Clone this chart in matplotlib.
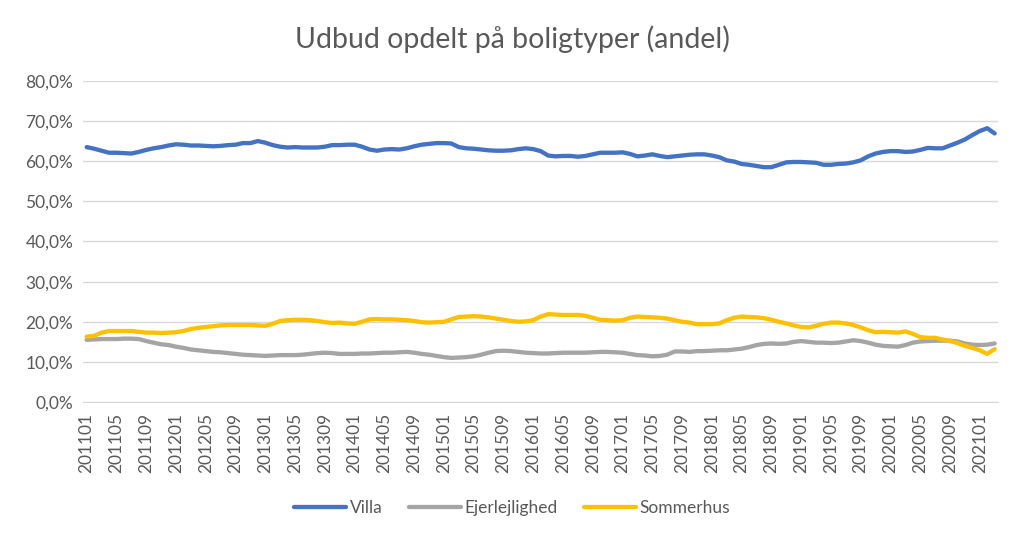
import numpy as np
import matplotlib
matplotlib.use("Agg")
import matplotlib.pyplot as plt
from matplotlib.ticker import FuncFormatter

plt.rcParams['font.family'] = ['Lato', 'DejaVu Sans']

## data -----
# monthly periods 201101 .. 202103
months = [f"{y}{m:02d}" for y in range(2011, 2022) for m in range(1, 13)][:123]

villa = [63.5, 63.1, 62.6, 62.1, 62.1, 62.0, 61.9, 62.3, 62.8, 63.2,
         63.5, 63.9, 64.2, 64.1, 63.9, 63.9, 63.8, 63.7, 63.8, 64.0,
         64.1, 64.5, 64.5, 65.0, 64.6, 64.0, 63.6, 63.4, 63.5, 63.4,
         63.4, 63.4, 63.6, 64.0, 64.0, 64.1, 64.1, 63.6, 62.9, 62.6,
         62.9, 63.0, 62.9, 63.2, 63.7, 64.1, 64.3, 64.5, 64.5, 64.4,
         63.5, 63.2, 63.1, 62.9, 62.7, 62.6, 62.6, 62.7, 63.0, 63.2,
         63.0, 62.5, 61.4, 61.2, 61.3, 61.3, 61.1, 61.3, 61.7, 62.1,
         62.1, 62.1, 62.2, 61.8, 61.2, 61.4, 61.7, 61.3, 61.0, 61.2,
         61.4, 61.6, 61.7, 61.7, 61.4, 61.0, 60.2, 59.9, 59.3, 59.1,
         58.8, 58.5, 58.5, 59.1, 59.7, 59.8, 59.8, 59.7, 59.6, 59.1,
         59.1, 59.3, 59.4, 59.7, 60.2, 61.2, 61.9, 62.3, 62.5, 62.5,
         62.3, 62.4, 62.8, 63.3, 63.2, 63.2, 63.9, 64.6, 65.4, 66.5,
         67.5, 68.2, 66.9]

ejerlejlighed = [15.5, 15.6, 15.7, 15.7, 15.7, 15.8, 15.8, 15.7, 15.2, 14.8,
                 14.4, 14.2, 13.8, 13.5, 13.1, 12.9, 12.7, 12.5, 12.4, 12.2,
                 12.0, 11.8, 11.7, 11.6, 11.5, 11.6, 11.7, 11.7, 11.7, 11.8,
                 12.0, 12.2, 12.3, 12.2, 12.0, 12.0, 12.0, 12.1, 12.1, 12.2,
                 12.3, 12.3, 12.4, 12.5, 12.3, 12.0, 11.8, 11.5, 11.2, 11.0,
                 11.1, 11.2, 11.4, 11.8, 12.3, 12.7, 12.8, 12.7, 12.5, 12.3,
                 12.2, 12.1, 12.1, 12.2, 12.3, 12.3, 12.3, 12.3, 12.4, 12.5,
                 12.5, 12.4, 12.3, 12.0, 11.7, 11.6, 11.4, 11.5, 11.8, 12.6,
                 12.6, 12.5, 12.7, 12.7, 12.8, 12.9, 12.9, 13.1, 13.3, 13.7,
                 14.2, 14.5, 14.6, 14.5, 14.6, 15.0, 15.2, 15.0, 14.8, 14.8,
                 14.7, 14.8, 15.1, 15.4, 15.2, 14.8, 14.3, 14.0, 13.9, 13.8,
                 14.2, 14.8, 15.1, 15.2, 15.3, 15.3, 15.3, 15.1, 14.6, 14.3,
                 14.2, 14.3, 14.6]

sommerhus = [16.3, 16.5, 17.3, 17.7, 17.7, 17.7, 17.7, 17.5, 17.3, 17.3,
             17.2, 17.3, 17.4, 17.7, 18.2, 18.5, 18.7, 18.9, 19.1, 19.2,
             19.2, 19.2, 19.2, 19.1, 19.0, 19.5, 20.2, 20.4, 20.5, 20.5,
             20.4, 20.2, 19.9, 19.7, 19.8, 19.6, 19.5, 20.0, 20.6, 20.7,
             20.6, 20.6, 20.5, 20.4, 20.2, 19.9, 19.8, 19.9, 20.0, 20.6,
             21.2, 21.3, 21.4, 21.3, 21.1, 20.8, 20.5, 20.2, 20.0, 20.1,
             20.4, 21.3, 21.9, 21.8, 21.7, 21.7, 21.7, 21.5, 21.0, 20.5,
             20.4, 20.3, 20.4, 21.0, 21.3, 21.2, 21.1, 21.0, 20.8, 20.4,
             20.0, 19.8, 19.4, 19.4, 19.4, 19.6, 20.4, 21.0, 21.3, 21.2,
             21.1, 20.9, 20.5, 20.0, 19.6, 19.1, 18.7, 18.6, 19.0, 19.5,
             19.8, 19.8, 19.6, 19.2, 18.6, 17.9, 17.4, 17.5, 17.4, 17.3,
             17.6, 17.0, 16.2, 16.0, 16.0, 15.6, 15.2, 14.7, 14.0, 13.5,
             12.9, 12.0, 13.2]

series = [("Villa", villa, "#4472C4"),
          ("Ejerlejlighed", ejerlejlighed, "#A5A5A5"),
          ("Sommerhus", sommerhus, "#FFC000")]

## plot -----
fig = plt.figure(figsize=(10.24, 5.39), dpi=100, facecolor='white')
ax = fig.add_axes([0.081, 0.254, 0.894, 0.596])

x = np.arange(len(months))
for name, vals, col in series:
    ax.plot(x, np.array(vals) / 100, color=col, lw=3.1, label=name,
            solid_capstyle='round', solid_joinstyle='round')

ax.set_xlim(-0.5, len(months) - 0.5)
ax.set_ylim(0, 0.8)
ax.set_yticks(np.arange(0, 0.81, 0.1))
ax.yaxis.set_major_formatter(FuncFormatter(lambda v, p: f"{v*100:.1f}%".replace('.', ',')))
ax.set_xticks(x[::4])
ax.set_xticklabels(months[::4], rotation=90)

ax.grid(axis='y', color='#D9D9D9', lw=1)
ax.set_axisbelow(True)
for s in ['top', 'right', 'left']:
    ax.spines[s].set_visible(False)
ax.spines['bottom'].set_color('#D9D9D9')
ax.tick_params(axis='both', length=0, colors='#595959', labelsize=12.5)
ax.tick_params(axis='x', pad=8)
ax.tick_params(axis='y', pad=7)

fig.text(0.5, 0.928, "Udbud opdelt på boligtyper (andel)", ha='center', va='center',
         fontsize=20.5, color='#595959')

leg = fig.legend(loc='center', bbox_to_anchor=(0.5, 0.058), ncol=3, frameon=False,
                 fontsize=12.5, handlelength=3.0, columnspacing=1.5, handletextpad=0.2)
for t in leg.get_texts():
    t.set_color('#595959')

fig.savefig('out.png', dpi=100, facecolor='white')
